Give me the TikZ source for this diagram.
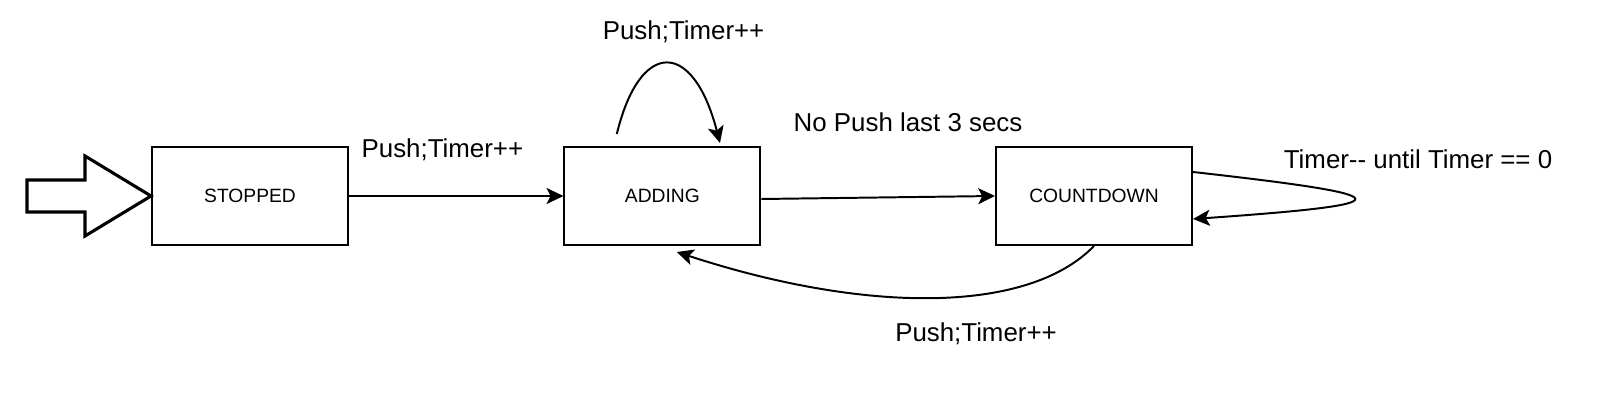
\documentclass[tikz,border=0pt]{standalone}
\usepackage{fontspec}
\setmainfont{Liberation Sans}
\usetikzlibrary{arrows.meta}
\tikzset{%
  stateBox/.style={rectangle, draw=black, line width=1.4pt, minimum width=4.9cm, minimum height=2.45cm, align=center, font=\fontsize{13.7}{16}\selectfont},% one state of the timer
  edgeLabel/.style={font=\fontsize{18.4}{22}\selectfont, inner sep=0pt},
  transition/.style={line width=1.4pt, -{Stealth[length=0.42cm, width=0.4cm, inset=0.1cm]}},
  entryArrow/.style={draw=black, line width=2.2pt, line join=miter, fill=white}}

\begin{document}
\begin{tikzpicture}
        \useasboundingbox (0,0) rectangle (40.375,-10);

        %Nodes
        \node[stateBox] (stopped) at (6.25,-4.9) {STOPPED};
        \node[stateBox] (adding) at (16.56,-4.9) {ADDING};
        \node[stateBox] (countdown) at (27.35,-4.9) {COUNTDOWN};

        \node[edgeLabel] (push_t) at (11.06,-3.75) {Push;Timer++};
        \node[edgeLabel] (pushLoop_t) at (17.09,-0.8) {Push;Timer++};
        \node[edgeLabel] (noPush_t) at (22.7,-3.05) {No Push last 3 secs};
        \node[edgeLabel] (timer_t) at (35.45,-3.98) {Timer-{}- until Timer == 0};
        \node[edgeLabel] (pushBack_t) at (24.4,-8.35) {Push;Timer++};

        %Start arrow
        \draw[entryArrow] (stopped.west) -- ++(-1.65,1.0) -- ++(0,-0.6) -- ++(-1.45,0)
            -- ++(0,-0.8) -- ++(1.45,0) -- ++(0,-0.6) -- cycle;

        %Lines
        \draw[transition] (stopped) -- (adding);
        \draw[transition] ([yshift=-0.075cm]adding.east) -- (countdown.west);
        \draw[transition] ([shift={(-1.14,0.3)}]adding.north) .. controls +(0.575,2.375) and +(-0.675,2.6) .. ([shift={(1.44,0.075)}]adding.north);
        \draw[transition] ([yshift=0.6cm]countdown.east) .. controls +(5.36,-0.6) and +(5.36,0.375) .. ([yshift=-0.575cm]countdown.east);
        \draw[transition] (countdown.south) .. controls +(-1.7,-1.75) and +(4.575,-1.5) .. ([shift={(0.36,-0.15)}]adding.south);
\end{tikzpicture}
\end{document}
